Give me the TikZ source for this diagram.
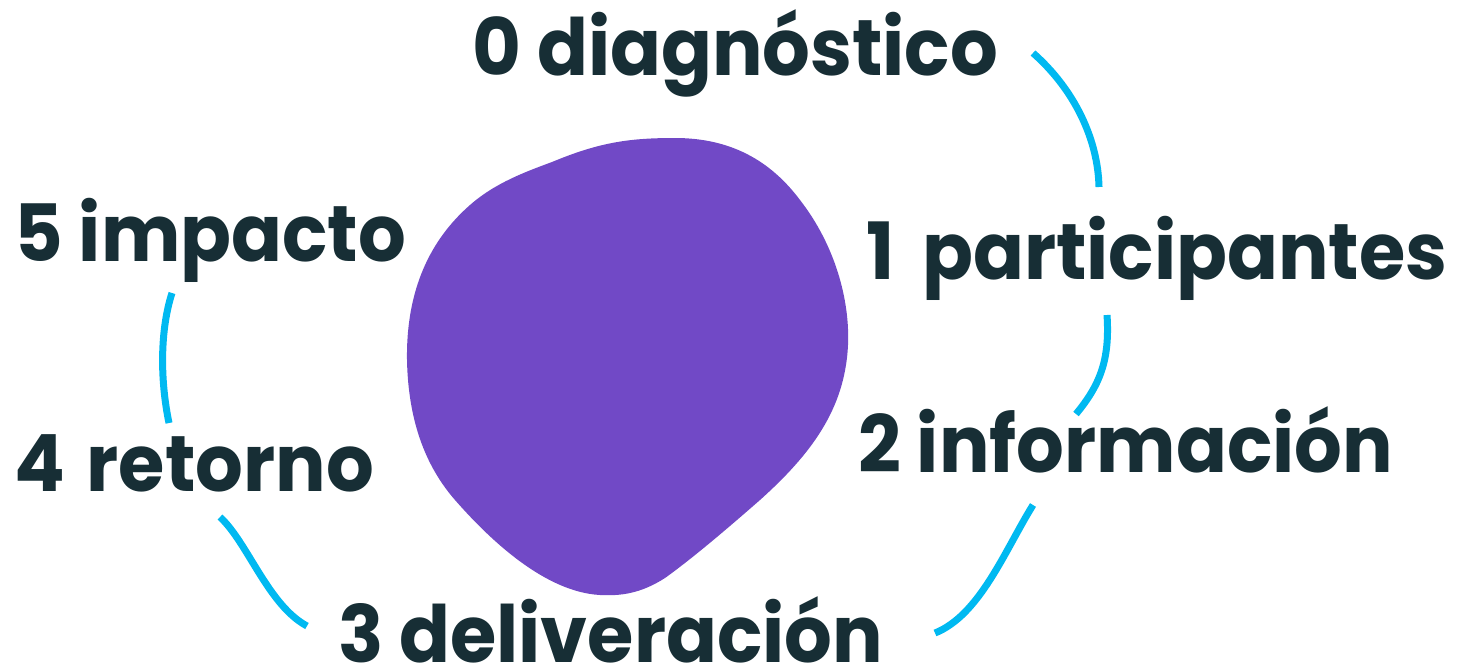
\documentclass[tikz,border=0pt]{standalone}
\usepackage{fontspec}
\setmainfont{Poppins}[FakeStretch=0.95]
\definecolor{txt}{RGB}{23,46,53}
\definecolor{blob}{RGB}{113,73,198}
\definecolor{link}{RGB}{0,185,241}
\begin{document}
\begin{tikzpicture}[x=1pt,y=-1pt,
  lbl/.style={anchor=base west,inner sep=0pt,text=txt,font=\fontsize{79}{79}\selectfont\bfseries},
  linkline/.style={draw=link,line width=7pt}]
\useasboundingbox (0,0) rectangle (1458,670);
\fill[blob] (552,162) .. controls (600,142) and (630,138) .. (675,138)
  .. controls (730,138) and (770,160) .. (800,200)
  .. controls (835,245) and (850,300) .. (848,345)
  .. controls (845,410) and (810,455) .. (760,500)
  .. controls (720,535) and (690,560) .. (665,578)
  .. controls (640,594) and (620,596) .. (600,595)
  .. controls (545,592) and (490,540) .. (455,500)
  .. controls (420,460) and (408,410) .. (407,360)
  .. controls (406,290) and (430,240) .. (470,205)
  .. controls (495,183) and (525,172) .. (552,162) -- cycle;
\node[lbl] (n0) at (472,75) {0 diagnóstico};
\node[lbl] (n1) at (866,279) {1\hspace{12pt} participantes};
\node[lbl] (n2) at (858,472) {2 información};
\node[lbl] (n3) at (338,662) {3 deliveración};
\node[lbl] (n4) at (14,491) {4\hspace{6pt} retorno};
\node[lbl] (n5) at (14,261) {5 impacto};
\coordinate (a0) at (1033,53);
\coordinate (a1) at (1099,187);
\coordinate (b1) at (1107,315);
\coordinate (b2) at (1076,414);
\coordinate (c2) at (1033,505);
\coordinate (c3) at (935,633);
\coordinate (d5) at (172,293);
\coordinate (d4) at (169,423);
\coordinate (e4) at (220,517);
\coordinate (e3) at (307,626);
\draw[linkline] (a0) .. controls (1075,90) and (1098,140) .. (a1);
\draw[linkline] (b1) .. controls (1110,360) and (1100,385) .. (b2);
\draw[linkline] (c2) .. controls (1005,550) and (980,615) .. (c3);
\draw[linkline] (d5) .. controls (160,330) and (160,380) .. (d4);
\draw[linkline] (e4) .. controls (248,543) and (268,605) .. (e3);
\end{tikzpicture}
\end{document}
